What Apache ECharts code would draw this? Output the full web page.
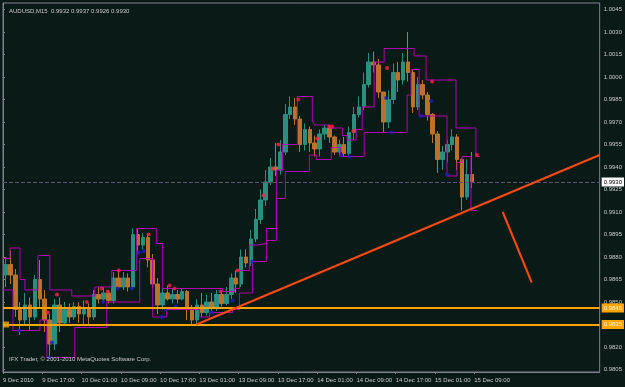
<!DOCTYPE html>
<html>
<head>
<meta charset="utf-8">
<script src="https://cdn.jsdelivr.net/npm/echarts@6/dist/echarts.min.js"></script>
<style>
  html, body { margin: 0; padding: 0; background: #0a1b17; }
  #chart-container { width: 625px; height: 387px; }
</style>
</head>
<body>
<div id="chart-container"></div>
<script>
// AUDUSD M15, drawn as hourly bars [open, close, low, high]
const hourBars = [
  [0.9868,0.9875,0.9860,0.9880],[0.9875,0.9868,0.9862,0.9884],[0.9868,0.9845,0.9840,0.9872],[0.9845,0.9838,0.9828,0.9850],
  [0.9838,0.9848,0.9834,0.9856],[0.9848,0.9840,0.9831,0.9853],[0.9840,0.9865,0.9838,0.9868],[0.9865,0.9852,0.9846,0.9878],
  [0.9852,0.9838,0.9830,0.9858],[0.9838,0.9822,0.9812,0.9842],[0.9822,0.9848,0.9818,0.9852],[0.9848,0.9836,0.9830,0.9853],
  [0.9836,0.9845,0.9834,0.9850],[0.9845,0.9840,0.9836,0.9849],[0.9840,0.9847,0.9838,0.9850],[0.9847,0.9842,0.9836,0.9850],
  [0.9842,0.9846,0.9834,0.9851],[0.9846,0.9840,0.9834,0.9849],[0.9840,0.9855,0.9838,0.9858],[0.9855,0.9852,0.9849,0.9860],
  [0.9852,0.9856,0.9850,0.9860],[0.9856,0.9851,0.9849,0.9858],[0.9851,0.9866,0.9849,0.9870],[0.9866,0.9860,0.9859,0.9871],
  [0.9860,0.9866,0.9858,0.9870],[0.9866,0.9860,0.9857,0.9869],[0.9860,0.9895,0.9858,0.9899],[0.9895,0.9888,0.9882,0.9899],
  [0.9888,0.9893,0.9885,0.9896],[0.9893,0.9878,0.9873,0.9896],[0.9878,0.9862,0.9859,0.9882],[0.9862,0.9848,0.9842,0.9866],
  [0.9848,0.9856,0.9845,0.9859],[0.9856,0.9852,0.9851,0.9861],[0.9852,0.9855,0.9849,0.9859],[0.9855,0.9852,0.9849,0.9858],
  [0.9852,0.9857,0.9851,0.9859],[0.9857,0.9845,0.9838,0.9858],[0.9845,0.9838,0.9834,0.9848],[0.9838,0.9848,0.9835,0.9852],
  [0.9848,0.9843,0.9840,0.9856],[0.9843,0.9850,0.9841,0.9855],[0.9850,0.9846,0.9844,0.9856],[0.9846,0.9855,0.9844,0.9858],
  [0.9855,0.9849,0.9847,0.9857],[0.9849,0.9855,0.9848,0.9860],[0.9855,0.9866,0.9852,0.9869],[0.9866,0.9862,0.9856,0.9871],
  [0.9862,0.9880,0.9860,0.9885],[0.9880,0.9876,0.9873,0.9885],[0.9876,0.9892,0.9874,0.9898],[0.9892,0.9905,0.9890,0.9912],
  [0.9905,0.9918,0.9902,0.9925],[0.9918,0.9930,0.9914,0.9938],[0.9930,0.9940,0.9928,0.9946],[0.9940,0.9938,0.9934,0.9956],
  [0.9938,0.9950,0.9935,0.9958],[0.9950,0.9975,0.9948,0.9982],[0.9975,0.9980,0.9972,0.9987],[0.9980,0.9972,0.9968,0.9986],
  [0.9972,0.9955,0.9950,0.9974],[0.9955,0.9965,0.9951,0.9969],[0.9965,0.9956,0.9950,0.9967],[0.9956,0.9952,0.9947,0.9961],
  [0.9952,0.9962,0.9947,0.9965],[0.9962,0.9966,0.9958,0.9968],[0.9966,0.9960,0.9956,0.9967],[0.9960,0.9950,0.9948,0.9961],
  [0.9950,0.9955,0.9947,0.9958],[0.9955,0.9949,0.9947,0.9960],[0.9949,0.9963,0.9947,0.9967],[0.9963,0.9975,0.9958,0.9980],
  [0.9975,0.9980,0.9973,0.9987],[0.9980,0.9995,0.9978,1.0003],[0.9995,1.0010,0.9993,1.0016],[1.0010,1.0008,1.0003,1.0017],
  [1.0008,0.9990,0.9986,1.0012],[0.9990,0.9970,0.9963,0.9990],[0.9970,0.9985,0.9966,0.9991],[0.9985,1.0003,0.9982,1.0009],
  [1.0003,0.9998,0.9990,1.0010],[0.9998,1.0010,0.9995,1.0016],[1.0010,1.0003,0.9997,1.0030],[1.0003,0.9980,0.9976,1.0005],
  [0.9980,0.9995,0.9978,1.0000],[0.9995,0.9988,0.9985,0.9998],[0.9988,0.9975,0.9971,0.9990],[0.9975,0.9962,0.9956,0.9976],
  [0.9962,0.9945,0.9936,0.9964],[0.9945,0.9950,0.9938,0.9954],[0.9950,0.9955,0.9943,0.9958],[0.9955,0.9960,0.9951,0.9965],
  [0.9960,0.9945,0.9938,0.9962],[0.9945,0.9920,0.9911,0.9946],[0.9920,0.9935,0.9918,0.9945],[0.9935,0.9930,0.9926,0.9950]
];

// channel steps [hour position, price]
const upperChannel = [
  [0,0.9879],[1.42,0.9886],[3.46,0.9865],[4.47,0.9858],[7.11,0.9881],[9.55,0.9858],[14.02,0.9854],[18.7,0.9860],
  [22.15,0.9871],[27.24,0.9899],[31.3,0.9889],[32.52,0.9859],[41.46,0.9859],[44.72,0.9857],[47.15,0.9859],[48.17,0.9871],
  [50.2,0.9888],[51.83,0.9889],[53.66,0.9891],[55.69,0.9938],[56.91,0.9955],[59.96,0.9987],[63.01,0.9971],[63.41,0.9968],
  [66.46,0.9966],[69.11,0.9961],[70.12,0.9958],[71.95,0.9965],[73.17,0.9980],[75.61,1.0010],[77.64,1.0019],[83.74,1.0014],
  [86.18,0.9998],[92.28,0.9966],[96.34,0.9947],[97.15,0.9947]
];
const lowerChannel = [
  [0,0.9858],[2.03,0.9831],[7.52,0.9838],[8.94,0.9813],[14.63,0.9833],[21.14,0.9850],[27.85,0.9879],[30.49,0.9840],
  [33.33,0.9845],[40.04,0.9840],[42.07,0.9843],[46.75,0.9845],[48.17,0.9856],[50.81,0.9877],[53.66,0.9899],[55.69,0.9919],
  [57.52,0.9937],[62.4,0.9948],[63.82,0.9945],[66.87,0.9953],[68.7,0.9947],[73.58,0.9963],[82.32,0.9988],[83.13,1.0005],
  [84.76,0.9974],[90.45,0.9934],[92.48,0.9943],[93.5,0.9947],[95.33,0.9911],[96.54,0.9911]
];

const redDots = [
  [9.15,0.9843],[10.98,0.9855],[17.07,0.9850],[20.12,0.9859],[21.34,0.9857],[23.58,0.9871],[29.67,0.9895],[33.94,0.9861],
  [34.96,0.9859],[44.31,0.9857],[47.76,0.9871],[53.05,0.9921],[54.88,0.9939],[56.1,0.9955],[60.16,0.9985],[64.02,0.9959],
  [66.46,0.9967],[67.07,0.9967],[71.34,0.9964],[78.25,1.0006],[87.4,0.9997],[96.54,0.9948]
];
const blueDots = [
  [3.25,0.9831],[9.35,0.9813],[9.96,0.9823],[20.33,0.9850],[23.37,0.9859],[26.22,0.9859],[27.64,0.9883],[28.66,0.9884],
  [32.32,0.9840],[33.13,0.9845],[35.16,0.9847],[42.48,0.9843],[46.75,0.9851],[50.81,0.9877],[68.9,0.9948],[70.53,0.9947],
  [78.05,0.9986],[79.07,0.9963],[85.16,0.9974],[87.2,0.9984],[90.45,0.9935]
];

const trendLine = [[39.4,0.9835],[121.54,0.9948]];
const slashLine = [[101.8,0.9910],[107.7,0.9863]];
const supportLevels = [0.9846, 0.9835];
const lastPrice = 0.9930;

const xTickPos = [0,8,16,24,32,40,48,56,64,72,80,88,96];
const xLabels = ['9 Dec 2010','9 Dec 17:00','10 Dec 01:00','10 Dec 09:00','10 Dec 17:00','13 Dec 01:00',
  '13 Dec 09:00','13 Dec 17:00','14 Dec 01:00','14 Dec 09:00','14 Dec 17:00','15 Dec 01:00','15 Dec 09:00'];
const yLabels = [0.9805,0.9820,0.9850,0.9865,0.9880,0.9895,0.9910,0.9925,0.9940,0.9955,0.9970,0.9985,1.0000,1.0015,1.0030,1.0045];

const headerText = 'AUDUSD,M15  0.9932 0.9937 0.9926 0.9930';
const footerText = 'IFX Trader, \u00a9 2001-2010 MetaQuotes Software Corp.';

const fontFam = "'Liberation Sans', sans-serif";
const fSize = 6;
const txtColor = '#c8c8c8';
const frameColor = '#80808e';

let myChart = echarts.init(document.getElementById('chart-container'), null, { renderer: 'canvas' });

const candleData = hourBars.map((b, i) => [i + 0.5, b[0], b[1], b[2], b[3]]);

const levelLabel = (bg, fg) => ({
  show: true, position: 'end', distance: 2, formatter: (p) => p.value.toFixed(4),
  backgroundColor: bg, color: fg, padding: [2, 2, 1, 2],
  fontSize: fSize, fontFamily: fontFam
});

const opciones = {
  backgroundColor: '#0a1b17',
  animation: false,
  title: [
    { text: headerText, left: 4, top: 3, textStyle: { color: txtColor, fontSize: fSize, fontWeight: 'normal', fontFamily: fontFam } },
    { text: footerText, left: 4, top: 351, textStyle: { color: txtColor, fontSize: fSize, fontWeight: 'normal', fontFamily: fontFam } }
  ],
  grid: { left: 3, right: 24, top: 3, bottom: 15, show: true, borderColor: frameColor, borderWidth: 1, backgroundColor: 'transparent' },
  xAxis: {
    type: 'value', min: 0, max: 121.54,
    axisLine: { show: true, lineStyle: { color: frameColor } },
    axisTick: { show: true, length: 2, customValues: xTickPos, lineStyle: { color: frameColor } },
    axisLabel: {
      customValues: xTickPos, align: 'left', margin: 5, color: txtColor, fontSize: fSize, fontFamily: fontFam,
      formatter: (v) => xLabels[xTickPos.indexOf(v)] || ''
    },
    splitLine: { show: false }
  },
  yAxis: {
    type: 'value', position: 'right', min: 0.980333, max: 1.004933, scale: true,
    axisLine: { show: true, lineStyle: { color: frameColor } },
    axisTick: { show: true, length: 2, customValues: yLabels, lineStyle: { color: frameColor } },
    axisLabel: { customValues: yLabels, margin: 4, color: txtColor, fontSize: fSize, fontFamily: fontFam, formatter: (v) => v.toFixed(4) },
    splitLine: { show: false }
  },
  series: [
    {
      type: 'candlestick', data: candleData, barWidth: 4,
      encode: { x: 0, y: [1, 2, 3, 4] },
      itemStyle: { color: '#2b8f80', color0: '#bb732c', borderColor: '#2b8f80', borderColor0: '#bb732c', borderWidth: 1 }
    },
    { type: 'line', data: upperChannel, step: 'end', symbol: 'none', lineStyle: { color: '#b400b4', width: 1 }, z: 3 },
    { type: 'line', data: lowerChannel, step: 'end', symbol: 'none', lineStyle: { color: '#b400b4', width: 1 }, z: 3 },
    { type: 'scatter', data: redDots, symbol: 'circle', symbolSize: 4, itemStyle: { color: '#ff1f45' }, z: 4 },
    { type: 'scatter', data: blueDots, symbol: 'circle', symbolSize: 4, itemStyle: { color: '#1c1cc8' }, z: 4 },
    {
      type: 'line', data: trendLine, symbol: 'none', lineStyle: { color: '#ff4a10', width: 2 }, z: 5,
      markLine: {
        symbol: 'none', silent: true, precision: 4,
        data: [
          { yAxis: lastPrice, lineStyle: { color: '#5e5070', type: 'dashed', width: 1 }, label: levelLabel('#ffffff', '#000000') },
          { yAxis: supportLevels[0], lineStyle: { color: '#ffa500', type: 'solid', width: 2 }, label: levelLabel('#ffa500', '#fff4d8') },
          { yAxis: supportLevels[1], lineStyle: { color: '#ffa500', type: 'solid', width: 2 }, label: levelLabel('#ffa500', '#fff4d8') }
        ]
      }
    },
    { type: 'line', data: slashLine, symbol: 'none', lineStyle: { color: '#ff4a10', width: 2 }, z: 5 },
    { type: 'scatter', data: [[0.6, supportLevels[1]]], symbol: 'rect', symbolSize: 6, itemStyle: { color: '#ffa500' }, z: 6 }
  ]
};

myChart.setOption(opciones);
window.addEventListener('resize', myChart.resize);
</script>
</body>
</html>
